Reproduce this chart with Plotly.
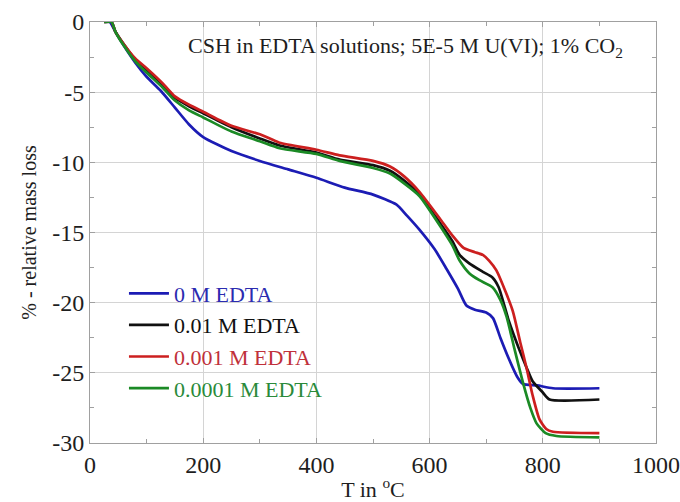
import plotly.graph_objects as go

# Thermogravimetric curves: temperature (°C) vs relative mass loss (%)
t_blue = [25, 35, 45, 60, 80, 100, 125, 150, 175, 200, 250, 300, 350, 400, 450, 500,
          541, 560, 582, 609, 630, 650, 665, 680, 700, 712, 725, 740, 755, 765, 790, 818, 900]
m_blue = [0, 0, -0.7, -1.7, -2.9, -3.9, -4.9, -6.1, -7.3, -8.2, -9.2, -9.9, -10.5, -11.1, -11.8, -12.3,
          -13.0, -13.8, -14.8, -16.2, -17.6, -19.0, -20.2, -20.5, -20.7, -21.1, -22.5, -24.0, -25.3, -25.8, -25.9, -26.1, -26.1]

t_black = [25, 38, 45, 60, 80, 100, 129, 150, 175, 200, 250, 300, 335, 400, 441, 500, 530, 555,
           582, 618, 640, 653, 670, 694, 711, 722, 740, 759, 771, 782, 800, 812, 900]
m_black = [0, 0, -0.7, -1.6, -2.7, -3.4, -4.5, -5.4, -6.0, -6.5, -7.5, -8.3, -8.8, -9.3, -9.8, -10.2, -10.6, -11.3,
           -12.3, -14.3, -15.6, -16.6, -17.2, -17.8, -18.2, -18.9, -21.3, -23.4, -24.6, -25.6, -26.4, -26.9, -26.9]

t_red = [25, 38, 45, 60, 80, 100, 129, 150, 175, 200, 250, 300, 335, 400, 441, 500, 530, 555,
         582, 618, 640, 660, 680, 694, 705, 718, 735, 747, 760, 771, 782, 794, 806, 818, 900]
m_red = [0, 0, -0.7, -1.6, -2.6, -3.3, -4.4, -5.3, -5.9, -6.4, -7.4, -8.0, -8.6, -9.1, -9.5, -9.9, -10.3, -11.0,
         -12.1, -14.0, -15.2, -16.1, -16.4, -16.6, -17.0, -17.7, -19.3, -20.6, -22.8, -24.6, -26.6, -28.3, -29.0, -29.2, -29.3]

t_green = [25, 38, 45, 60, 80, 100, 129, 150, 175, 200, 250, 300, 335, 400, 441, 500, 530, 555,
           582, 618, 640, 653, 670, 688, 711, 725, 736, 750, 765, 778, 789, 805, 824, 900]
m_green = [0, 0, -0.7, -1.7, -2.8, -3.6, -4.7, -5.6, -6.3, -6.8, -7.8, -8.5, -9.0, -9.4, -9.9, -10.4, -10.8, -11.5,
           -12.4, -14.5, -15.9, -17.0, -17.9, -18.4, -18.9, -19.8, -21.0, -23.3, -25.7, -27.5, -28.6, -29.3, -29.5, -29.6]

# Axis ticks (hyphen-minus labels on the y axis)
x_ticks = [0, 200, 400, 600, 800, 1000]
y_ticks = [0, -5, -10, -15, -20, -25, -30]
y_tick_text = [str(v) for v in y_ticks]

series = [
    ("0 M EDTA", t_blue, m_blue, "#1c1cb4", "#2b2bb0"),
    ("0.01 M EDTA", t_black, m_black, "#111111", "#111111"),
    ("0.001 M EDTA", t_red, m_red, "#cc1f1f", "#c0303a"),
    ("0.0001 M EDTA", t_green, m_green, "#1b8a25", "#2a8a3a"),
]

SERIF = "Liberation Serif, Times New Roman, DejaVu Serif, serif"
TXT = "#1e1e1e"

fig = go.Figure()
for i, (name, t, m, col, tcol) in enumerate(series):
    fig.add_trace(go.Scatter(
        x=t, y=m, mode="lines", line=dict(color=col, width=2.7, shape="spline", smoothing=0.6),
        name=f'<span style="color:{tcol}">{name}</span>', legendgroup=f"g{i}",
    ))

axis_common = dict(
    showline=True, linecolor="#a0a0a0", linewidth=1, mirror="ticks",
    showgrid=True, gridcolor="#d4d4d4", gridwidth=1,
    ticks="inside", ticklen=5, tickcolor="#a0a0a0",
    zeroline=False, automargin=False,
    tickfont=dict(family=SERIF, size=24, color=TXT),
)

fig.update_xaxes(
    range=[0, 1000], tickvals=x_ticks,
    minor=dict(ticks="inside", ticklen=4, dtick=100, tickcolor="#a0a0a0", showgrid=False),
    title=dict(text="T in <sup>o</sup>C", font=dict(family=SERIF, size=22, color=TXT), standoff=10),
    **axis_common,
)
fig.update_yaxes(
    range=[-30, 0], tickvals=y_ticks, ticktext=y_tick_text,
    minor=dict(ticks="inside", ticklen=4, dtick=2.5, tickcolor="#a0a0a0", showgrid=False),
    title=dict(text="% - relative mass loss", font=dict(family=SERIF, size=20, color=TXT), standoff=10),
    **axis_common,
)

fig.add_annotation(
    x=0.945, y=0.94, xref="paper", yref="paper", xanchor="right", yanchor="middle",
    text="CSH in EDTA solutions; 5E-5 M U(VI); 1% CO<sub>2</sub>",
    showarrow=False, font=dict(family=SERIF, size=22, color=TXT),
)

fig.update_layout(
    width=680, height=502,
    margin=dict(l=90, r=24, t=22, b=59),
    paper_bgcolor="white", plot_bgcolor="white",
    legend=dict(
        x=0.06, y=0.405, xanchor="left", yanchor="top",
        bgcolor="rgba(0,0,0,0)", font=dict(family=SERIF, size=22),
        tracegroupgap=0, itemwidth=40,
    ),
    showlegend=True,
)

fig.write_html("out.html")
